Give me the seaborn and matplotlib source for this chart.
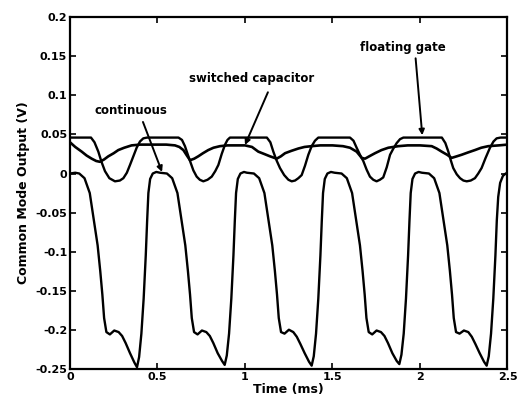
import matplotlib
matplotlib.use("Agg")
import matplotlib.pyplot as plt
import seaborn as sns

# time axis in ms, output in V
# continuous CMFB: one list per 0.5 ms period
cont_t1 = [0.0, 0.03, 0.053, 0.083, 0.113, 0.138, 0.158, 0.173, 0.185, 0.195, 0.208, 0.228, 0.253, 0.278,
           0.298, 0.318, 0.343, 0.368, 0.383, 0.395, 0.408, 0.421, 0.433, 0.441, 0.448, 0.458, 0.473, 0.493]
cont_y1 = [0.0, 0.001, 0.0, -0.006, -0.025, -0.062, -0.092, -0.125, -0.155, -0.185, -0.203, -0.206, -0.201, -0.203,
           -0.208, -0.217, -0.23, -0.242, -0.248, -0.235, -0.205, -0.16, -0.105, -0.06, -0.025, -0.007, 0.0, 0.002]
cont_t2 = [0.514, 0.554, 0.584, 0.614, 0.639, 0.659, 0.674, 0.686, 0.696, 0.709, 0.729, 0.754, 0.779, 0.799,
           0.819, 0.844, 0.869, 0.884, 0.896, 0.909, 0.922, 0.934, 0.942, 0.949, 0.959, 0.974, 0.994]
cont_y2 = [0.001, 0.0, -0.006, -0.025, -0.062, -0.092, -0.125, -0.155, -0.185, -0.203, -0.206, -0.201, -0.203, -0.208,
           -0.217, -0.23, -0.24, -0.245, -0.233, -0.205, -0.16, -0.105, -0.06, -0.025, -0.007, 0.0, 0.002]
cont_t3 = [1.011, 1.051, 1.081, 1.111, 1.136, 1.156, 1.171, 1.183, 1.193, 1.206, 1.226, 1.251, 1.276, 1.296,
           1.316, 1.341, 1.366, 1.381, 1.393, 1.406, 1.419, 1.431, 1.439, 1.446, 1.456, 1.471, 1.491]
cont_y3 = [0.001, 0.0, -0.006, -0.025, -0.062, -0.092, -0.125, -0.155, -0.185, -0.203, -0.205, -0.2, -0.203, -0.209,
           -0.218, -0.23, -0.241, -0.246, -0.234, -0.205, -0.16, -0.105, -0.06, -0.025, -0.007, 0.0, 0.002]
cont_t4 = [1.512, 1.552, 1.582, 1.612, 1.637, 1.657, 1.672, 1.684, 1.694, 1.707, 1.727, 1.752, 1.777, 1.797,
           1.817, 1.842, 1.867, 1.882, 1.894, 1.907, 1.92, 1.932, 1.94, 1.947, 1.957, 1.972, 1.992]
cont_y4 = [0.001, 0.0, -0.006, -0.025, -0.062, -0.092, -0.125, -0.155, -0.185, -0.203, -0.206, -0.201, -0.203, -0.208,
           -0.217, -0.23, -0.24, -0.244, -0.232, -0.205, -0.16, -0.105, -0.06, -0.025, -0.007, 0.0, 0.002]
cont_t5 = [2.011, 2.051, 2.081, 2.111, 2.136, 2.156, 2.171, 2.183, 2.193, 2.206, 2.226, 2.251, 2.276, 2.296,
           2.316, 2.341, 2.366, 2.381, 2.393, 2.406, 2.419, 2.431, 2.439, 2.447, 2.458, 2.474, 2.49, 2.5]
cont_y5 = [0.001, 0.0, -0.006, -0.025, -0.062, -0.092, -0.125, -0.155, -0.185, -0.203, -0.205, -0.201, -0.203, -0.209,
           -0.218, -0.23, -0.241, -0.246, -0.234, -0.205, -0.16, -0.105, -0.06, -0.03, -0.012, -0.003, 0.0, 0.001]

# floating gate CMFB
fg_t = [0.0, 0.12, 0.14, 0.162, 0.18, 0.2, 0.225, 0.257, 0.285, 0.305, 0.325, 0.343, 0.362, 0.381, 0.4, 0.419, 0.44,
        0.62, 0.64, 0.657, 0.672, 0.686, 0.705, 0.724, 0.742, 0.762, 0.786, 0.81, 0.83, 0.848, 0.867, 0.886, 0.9, 0.914,
        1.125, 1.145, 1.162, 1.18, 1.2, 1.224, 1.248, 1.267, 1.286, 1.305, 1.324, 1.343, 1.362, 1.381, 1.4, 1.419,
        1.6, 1.62, 1.638, 1.657, 1.676, 1.695, 1.714, 1.733, 1.752, 1.771, 1.79, 1.81, 1.829, 1.848, 1.867, 1.886, 1.905,
        2.125, 2.145, 2.162, 2.176, 2.19, 2.21, 2.229, 2.248, 2.267, 2.29, 2.314, 2.333, 2.352, 2.375, 2.4, 2.42, 2.438,
        2.46, 2.5]
fg_y = [0.046, 0.046, 0.04, 0.028, 0.015, 0.003, -0.006, -0.01, -0.009, -0.006, 0.001, 0.011, 0.022, 0.033, 0.041, 0.045, 0.046,
        0.046, 0.043, 0.035, 0.025, 0.016, 0.004, -0.004, -0.008, -0.01, -0.008, -0.004, 0.003, 0.011, 0.025, 0.037, 0.043, 0.046,
        0.046, 0.04, 0.028, 0.017, 0.007, -0.002, -0.008, -0.01, -0.009, -0.006, -0.002, 0.01, 0.024, 0.035, 0.042, 0.046,
        0.046, 0.042, 0.033, 0.024, 0.016, 0.005, -0.004, -0.008, -0.01, -0.008, -0.005, 0.008, 0.024, 0.032, 0.039, 0.044, 0.046,
        0.046, 0.039, 0.028, 0.017, 0.007, -0.001, -0.006, -0.009, -0.01, -0.009, -0.006, 0.0, 0.007, 0.02, 0.033, 0.041, 0.045,
        0.046, 0.046]

# switched capacitor CMFB
sc_t = [0.0, 0.03, 0.067, 0.095, 0.124, 0.15, 0.171, 0.195, 0.219, 0.25, 0.276, 0.31, 0.352, 0.4, 0.45, 0.5, 0.55,
        0.6, 0.625, 0.648, 0.668, 0.686, 0.71, 0.733, 0.76, 0.79, 0.82, 0.857, 0.9, 0.95, 1.0, 1.04, 1.076, 1.11,
        1.143, 1.181, 1.205, 1.229, 1.265, 1.305, 1.34, 1.38, 1.43, 1.5, 1.56, 1.6, 1.638, 1.667, 1.686, 1.71, 1.743,
        1.78, 1.819, 1.876, 1.93, 2.0, 2.067, 2.095, 2.124, 2.155, 2.181, 2.21, 2.238, 2.275, 2.314, 2.35, 2.39,
        2.45, 2.5]
sc_y = [0.04, 0.034, 0.028, 0.023, 0.019, 0.016, 0.015, 0.018, 0.022, 0.026, 0.03, 0.033, 0.036, 0.037, 0.037, 0.037, 0.037,
        0.036, 0.034, 0.03, 0.023, 0.017, 0.019, 0.022, 0.026, 0.03, 0.033, 0.035, 0.036, 0.036, 0.036, 0.034, 0.028, 0.025,
        0.022, 0.019, 0.022, 0.026, 0.029, 0.032, 0.034, 0.035, 0.036, 0.036, 0.035, 0.033, 0.028, 0.02, 0.019, 0.022, 0.026,
        0.03, 0.033, 0.035, 0.036, 0.036, 0.035, 0.032, 0.028, 0.024, 0.02, 0.022, 0.024, 0.027, 0.03, 0.033, 0.035,
        0.036, 0.037]

x_ticks = [0, 0.5, 1, 1.5, 2, 2.5]
y_ticks = [-0.25, -0.2, -0.15, -0.1, -0.05, 0, 0.05, 0.1, 0.15, 0.2]

cont_t = cont_t1 + cont_t2 + cont_t3 + cont_t4 + cont_t5
cont_y = cont_y1 + cont_y2 + cont_y3 + cont_y4 + cont_y5

sns.set_style("ticks", {'axes.edgecolor': 'black', 'text.color': 'black',
                        'axes.labelcolor': 'black', 'xtick.color': 'black', 'ytick.color': 'black'})
plt.rcParams['font.family'] = ['DejaVu Sans']
plt.rcParams['axes.unicode_minus'] = False

fig = plt.figure(figsize=(5.18, 4.03), dpi=100)
ax = fig.add_axes([0.1351, 0.0849, 0.8446, 0.8722])

sns.lineplot(x=cont_t, y=cont_y, ax=ax, color='black', linewidth=1.7, estimator=None, sort=False)
sns.lineplot(x=sc_t, y=sc_y, ax=ax, color='black', linewidth=1.9, estimator=None, sort=False)
sns.lineplot(x=fg_t, y=fg_y, ax=ax, color='black', linewidth=1.7, estimator=None, sort=False)

ax.set_xlim(0, 2.5)
ax.set_ylim(-0.25, 0.2)
ax.set_xticks(x_ticks)
ax.set_xticklabels(['%g' % v for v in x_ticks])
ax.set_yticks(y_ticks)
ax.set_yticklabels(['%g' % v for v in y_ticks])
ax.tick_params(direction='in', length=4, width=1.2, top=True, right=True, labelsize=8, pad=2,
               colors='black')
for lbl in ax.get_xticklabels() + ax.get_yticklabels():
    lbl.set_fontweight('bold')
for sp in ax.spines.values():
    sp.set_linewidth(1.6)
    sp.set_color('black')
    sp.set_visible(True)

ax.set_xlabel('Time (ms)', fontsize=9, fontweight='bold', labelpad=1, color='black')
ax.set_ylabel('Common Mode Output (V)', fontsize=9, fontweight='bold', labelpad=4, color='black')

arrow = dict(arrowstyle='-|>', color='black', lw=1.4, mutation_scale=8, shrinkA=0, shrinkB=0)
ax.text(0.35, 0.081, 'continuous', ha='center', va='center', fontsize=8.5, fontweight='bold', color='black')
ax.annotate('', xy=(0.526, 0.002), xytext=(0.417, 0.066), arrowprops=arrow)
ax.text(1.04, 0.122, 'switched capacitor', ha='center', va='center', fontsize=8.5, fontweight='bold', color='black')
ax.annotate('', xy=(1.0, 0.0365), xytext=(1.131, 0.104), arrowprops=arrow)
ax.text(1.905, 0.161, 'floating gate', ha='center', va='center', fontsize=8.5, fontweight='bold', color='black')
ax.annotate('', xy=(2.013, 0.049), xytext=(1.975, 0.1475), arrowprops=arrow)

plt.savefig('out.png', dpi=100)
